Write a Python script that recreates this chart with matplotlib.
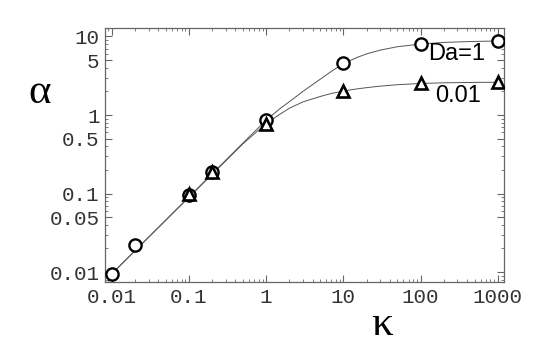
import matplotlib
matplotlib.use("Agg")
import matplotlib.pyplot as plt
from matplotlib.ticker import FixedLocator, NullFormatter, LogLocator

# marker data
kappa_da1 = [0.01, 0.02, 0.1, 0.2, 1, 10, 100, 1000]
alpha_da1 = [0.0095, 0.022, 0.097, 0.19, 0.87, 4.6, 8.0, 8.7]
kappa_da001 = [0.1, 0.2, 1, 10, 100, 1000]
alpha_da001 = [0.1, 0.19, 0.77, 2.05, 2.55, 2.6]

# curves
curve_k = [0.01, 0.5, 1, 1.5, 2, 3, 5, 7, 10, 15, 20, 30, 50, 100, 200, 500, 1000]
curve_da1 = [0.0095, 0.44, 0.86, 1.2, 1.48, 2.0, 2.85, 3.6, 4.5, 5.4, 6.0, 6.7, 7.4, 8.0, 8.4, 8.65, 8.75]
curve_da001 = [0.0095, 0.43, 0.78, 1.02, 1.22, 1.47, 1.72, 1.88, 2.02, 2.15, 2.23, 2.33, 2.43, 2.52, 2.57, 2.6, 2.61]

xticks = [0.01, 0.1, 1, 10, 100, 1000]
xticklabels = ["0.01", "0.1", "1", "10", "100", "1000"]
yticks = [0.01, 0.05, 0.1, 0.5, 1, 5, 10]
yticklabels = ["0.01", "0.05", "0.1", "0.5", "1", "5", "10"]

fig = plt.figure(figsize=(5.5, 3.64), dpi=100)
ax = fig.add_axes([0.191, 0.225, 0.725, 0.698])
ax.set_xscale("log")
ax.set_yscale("log")
ax.set_xlim(0.00818, 1196)
ax.set_ylim(0.00746, 12.8)

ax.plot(curve_k, curve_da1, color="#555555", lw=0.7, zorder=2)
ax.plot(curve_k, curve_da001, color="#555555", lw=0.7, zorder=2)
ax.plot(kappa_da1, alpha_da1, ls="none", marker="o", ms=8.8, mfc="white",
        mec="black", mew=1.7, zorder=3)
ax.plot(kappa_da001, alpha_da001, ls="none", marker="^", ms=8.8, mfc="white",
        mec="black", mew=1.9, zorder=4)

ax.xaxis.set_major_locator(FixedLocator(xticks))
ax.set_xticklabels(xticklabels)
ax.yaxis.set_major_locator(FixedLocator(yticks))
ax.set_yticklabels(yticklabels)
ax.xaxis.set_minor_locator(LogLocator(base=10, subs=range(2, 10)))
ax.yaxis.set_minor_locator(LogLocator(base=10, subs=range(2, 10)))
ax.xaxis.set_minor_formatter(NullFormatter())
ax.yaxis.set_minor_formatter(NullFormatter())

for lab in ax.get_xticklabels() + ax.get_yticklabels():
    lab.set_fontfamily("Liberation Mono")
    lab.set_fontsize(15)
    lab.set_color("#333333")

ax.tick_params(which="both", direction="in", top=True, right=True, color="#666666")
ax.tick_params(which="major", length=5, width=0.8, pad=4)
ax.tick_params(which="minor", length=2.5, width=0.6)
for s in ax.spines.values():
    s.set_color("#666666")
    s.set_linewidth(0.9)

fig.text(40 / 550, 1 - 93 / 364, "α", fontsize=31, family="Liberation Serif",
         ha="center", va="center")
fig.text(382 / 550, 1 - 325 / 364, "κ", fontsize=31, family="Liberation Serif",
         ha="center", va="center")
fig.text(457 / 550, 1 - 54 / 364, "Da=1", fontsize=17, family="Liberation Sans",
         ha="center", va="center")
fig.text(458 / 550, 1 - 96 / 364, "0.01", fontsize=17, family="Liberation Sans",
         ha="center", va="center")

fig.savefig("out.png", dpi=100)
